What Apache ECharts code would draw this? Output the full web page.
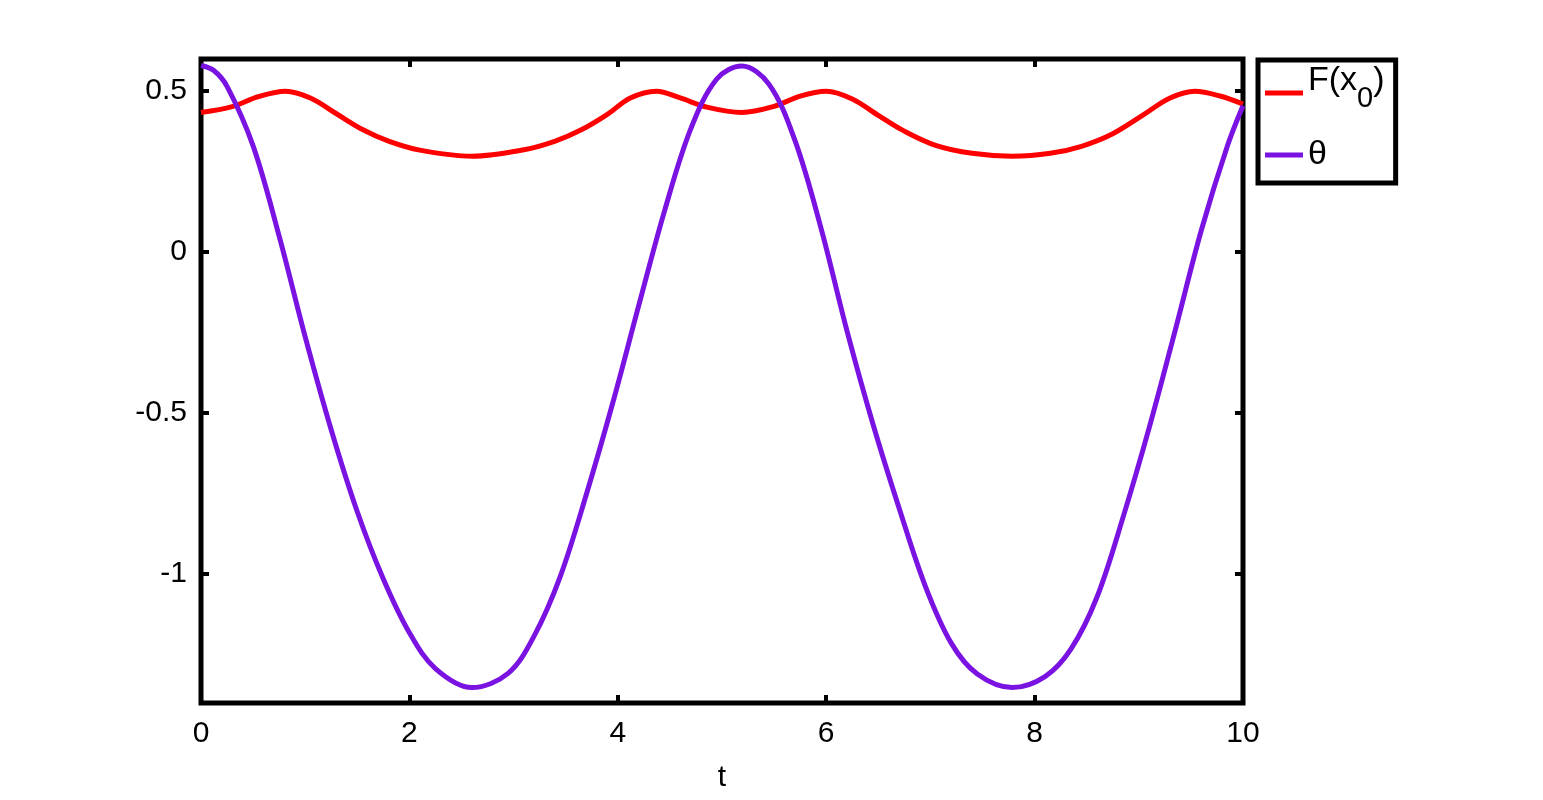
<!DOCTYPE html>
<html>
<head>
<meta charset="utf-8">
<script src="https://cdn.jsdelivr.net/npm/echarts@6/dist/echarts.min.js"></script>
<style>
  html, body { margin: 0; padding: 0; background: #fff; }
  #chart { width: 1543px; height: 800px; }
</style>
</head>
<body>
<div id="chart"></div>
<script>
// F(x0): sample times and values
var fTimes = [0, 0.3, 0.55, 0.81, 1.05, 1.3, 1.55, 1.8, 2.1, 2.6, 3.1, 3.4, 3.65, 3.9, 4.12, 4.37,
  4.6, 4.85, 5.19, 5.5, 5.75, 6.0, 6.25, 6.5, 6.75, 7.05, 7.4, 7.785, 8.15, 8.45, 8.75,
  9.05, 9.3, 9.54, 9.78, 10];
var fValues = [0.434, 0.452, 0.483, 0.50, 0.479, 0.43, 0.381, 0.345, 0.317, 0.298, 0.318, 0.345,
  0.38, 0.428, 0.479, 0.50, 0.479, 0.451, 0.434, 0.453, 0.485, 0.50, 0.476, 0.425, 0.376,
  0.332, 0.307, 0.298, 0.307, 0.329, 0.368, 0.428, 0.479, 0.50, 0.485, 0.46];
// theta
var thetaTimes = [0, 0.12, 0.25, 0.5, 0.75, 1, 1.25, 1.5, 1.75, 2, 2.25, 2.6, 2.95, 3.2, 3.45, 3.7, 3.95,
  4.2, 4.45, 4.7, 4.95, 5.19, 5.45, 5.7, 5.95, 6.2, 6.45, 6.7, 6.95, 7.2, 7.45, 7.785, 8.1,
  8.35, 8.6, 8.85, 9.1, 9.35, 9.6, 9.85, 10];
var thetaValues = [0.58, 0.565, 0.515, 0.33, 0.05, -0.263, -0.552, -0.806, -1.015, -1.182, -1.293, -1.352,
  -1.307, -1.19, -1.005, -0.75, -0.47, -0.167, 0.13, 0.383, 0.538, 0.578, 0.522, 0.347,
  0.075, -0.245, -0.535, -0.795, -1.036, -1.214, -1.31, -1.352, -1.318, -1.232, -1.07,
  -0.822, -0.545, -0.242, 0.068, 0.33, 0.455];
var yTicks = [-1, -0.5, 0, 0.5];
var seriesNames = ['F(x0)', 'θ'];

function pairs(ts, vals) {
  return ts.map(function (t, i) { return [t, vals[i]]; });
}

var myChart = echarts.init(document.getElementById('chart'));
var font = 'Liberation Sans, Arial, Helvetica, sans-serif';
var tickStyle = { color: '#000', width: 4 };

var option = {
  animation: false,
  backgroundColor: '#fff',
  grid: {
    left: 201, right: 300, top: 59, bottom: 97,
    show: true, borderColor: '#000', borderWidth: 5
  },
  legend: {
    orient: 'vertical',
    left: 1258, top: 60,
    data: seriesNames,
    icon: 'rect',
    itemWidth: 38, itemHeight: 5,
    itemGap: 16,
    padding: [4, 10, 11, 7],
    borderColor: '#000', borderWidth: 5,
    formatter: function (name) {
      // subscript: drop the 0 with top padding, pad token keeps the row tall
      return name === 'F(x0)' ? '{a|F(x}{sub|0}{a|)}{pad| }' : 'θ';
    },
    textStyle: {
      color: '#000', fontFamily: font, fontSize: 34, lineHeight: 34,
      rich: {
        a: { fontSize: 34, lineHeight: 34, fontFamily: font, color: '#000', verticalAlign: 'top' },
        sub: { fontSize: 29, lineHeight: 29, fontFamily: font, color: '#000', verticalAlign: 'top', padding: [20, 0, 0, 0] },
        pad: { fontSize: 4, lineHeight: 58, verticalAlign: 'top' }
      }
    }
  },
  xAxis: [
    {
      type: 'value', position: 'bottom', min: 0, max: 10, interval: 2,
      name: 't', nameLocation: 'middle', nameGap: 60,
      nameTextStyle: { color: '#000', fontFamily: font, fontSize: 30 },
      axisLine: { show: false, onZero: false },
      axisTick: { show: true, inside: true, length: 8, lineStyle: tickStyle },
      axisLabel: { color: '#000', fontFamily: font, fontSize: 30, margin: 16 },
      splitLine: { show: false }
    },
    {
      type: 'value', position: 'top', min: 0, max: 10, interval: 2,
      axisLine: { show: false, onZero: false },
      axisTick: { show: true, inside: true, length: 8, lineStyle: tickStyle },
      axisLabel: { show: false },
      splitLine: { show: false }
    }
  ],
  yAxis: [
    {
      type: 'value', position: 'left', min: -1.4, max: 0.6,
      axisLine: { show: false, onZero: false },
      axisTick: { show: true, inside: true, length: 8, lineStyle: tickStyle, customValues: yTicks },
      axisLabel: { color: '#000', fontFamily: font, fontSize: 30, margin: 14, customValues: yTicks },
      splitLine: { show: false }
    },
    {
      type: 'value', position: 'right', min: -1.4, max: 0.6,
      axisLine: { show: false, onZero: false },
      axisTick: { show: true, inside: true, length: 8, lineStyle: tickStyle, customValues: yTicks },
      axisLabel: { show: false, customValues: yTicks },
      splitLine: { show: false }
    }
  ],
  series: [
    {
      name: seriesNames[0], type: 'line', smooth: 0.35, showSymbol: false,
      data: pairs(fTimes, fValues), z: 2,
      itemStyle: { color: '#ff0000' },
      lineStyle: { color: '#ff0000', width: 5 }
    },
    {
      name: seriesNames[1], type: 'line', smooth: 0.35, showSymbol: false,
      data: pairs(thetaTimes, thetaValues), z: 3,
      itemStyle: { color: '#7a12e2' },
      lineStyle: { color: '#7a12e2', width: 5 }
    }
  ]
};

option && myChart.setOption(option);
</script>
</body>
</html>
